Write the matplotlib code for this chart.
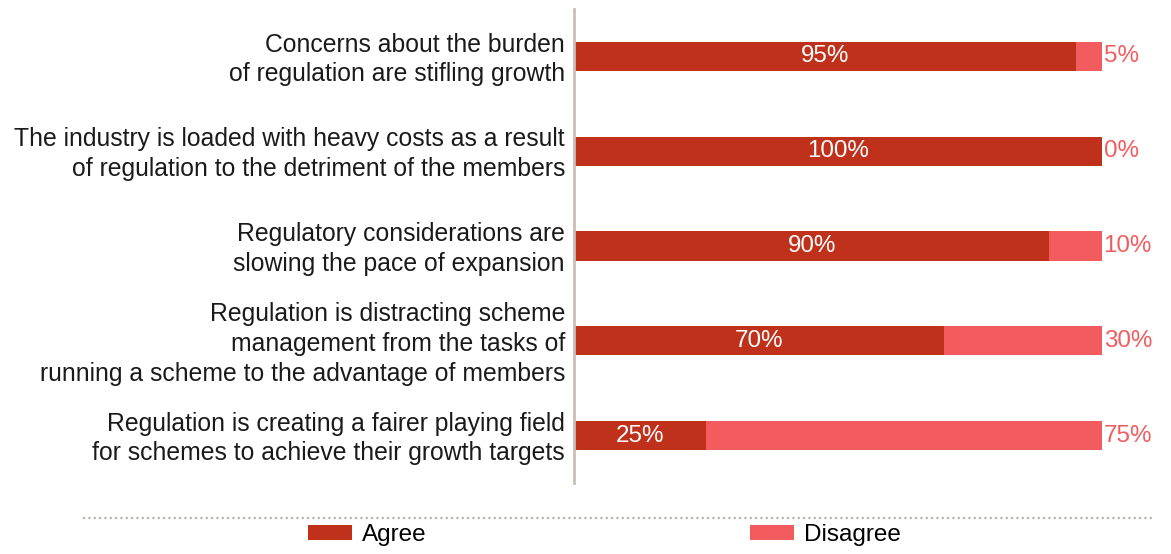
import numpy as np
import matplotlib.pyplot as plt
from matplotlib.lines import Line2D
from matplotlib.transforms import ScaledTranslation

plt.rcParams['font.family'] = ['Liberation Sans', 'DejaVu Sans']

statements = [
    'Concerns about the burden\nof regulation are stifling growth',
    'The industry is loaded with heavy costs as a result\nof regulation to the detriment of the members',
    'Regulatory considerations are\nslowing the pace of expansion',
    'Regulation is distracting scheme\nmanagement from the tasks of\nrunning a scheme to the advantage of members',
    'Regulation is creating a fairer playing field\nfor schemes to achieve their growth targets',
]
agree = [95, 100, 90, 70, 25]
disagree = [5, 0, 10, 30, 75]

c_agree = '#BF311B'
c_disagree = '#F25C5F'
fs_label = 17.8
fs_pct = 17.4
fs_leg = 17.5

fig = plt.figure(figsize=(11.71, 5.54), dpi=100)
ax = fig.add_axes([574 / 1171, 71 / 554, 528 / 1171, 474 / 554])

y = np.arange(len(statements))
ax.barh(y, agree, height=0.306, color=c_agree, label='Agree')
ax.barh(y, disagree, left=agree, height=0.306, color=c_disagree, label='Disagree')

for yi, a, d in zip(y, agree, disagree):
    ax.text(a / 2, yi, f'{a}%', color='white', fontsize=fs_pct, ha='center', va='center')
    ax.text(a + d + 0.3, yi, f'{d}%', color=c_disagree, fontsize=fs_pct, ha='left', va='center',
            clip_on=False)

ax.set_xlim(0, 100)
ax.set_ylim(4.5, -0.5)
ax.set_yticks(y)
ax.set_yticklabels(statements, fontsize=fs_label, color='#1a1a1a', linespacing=1.3, va='center')
ax.tick_params(axis='y', length=0, pad=6.5)
# nudge the statement labels down a little
shift = ScaledTranslation(0, -3 / 100, fig.dpi_scale_trans)
for lab in ax.get_yticklabels():
    lab.set_transform(lab.get_transform() + shift)
ax.set_xticks([])
for s in ['top', 'right', 'bottom']:
    ax.spines[s].set_visible(False)
ax.spines['left'].set_color('#C8BFB7')
ax.spines['left'].set_linewidth(2)

# dotted separator above the legend
fig.add_artist(Line2D([83 / 1171, 1153 / 1171], [1 - 518 / 554] * 2, color='#BDB5AE',
                      linewidth=1.6, linestyle=(0, (1, 1.4))))

fig.legend(loc='center left', bbox_to_anchor=(308 / 1171, 1 - 535 / 554), ncol=2,
           frameon=False, fontsize=fs_leg, borderpad=0, borderaxespad=0,
           handlelength=1.81, handleheight=0.62, handletextpad=0.41, columnspacing=13.3)

fig.savefig('out.png', dpi=100)
